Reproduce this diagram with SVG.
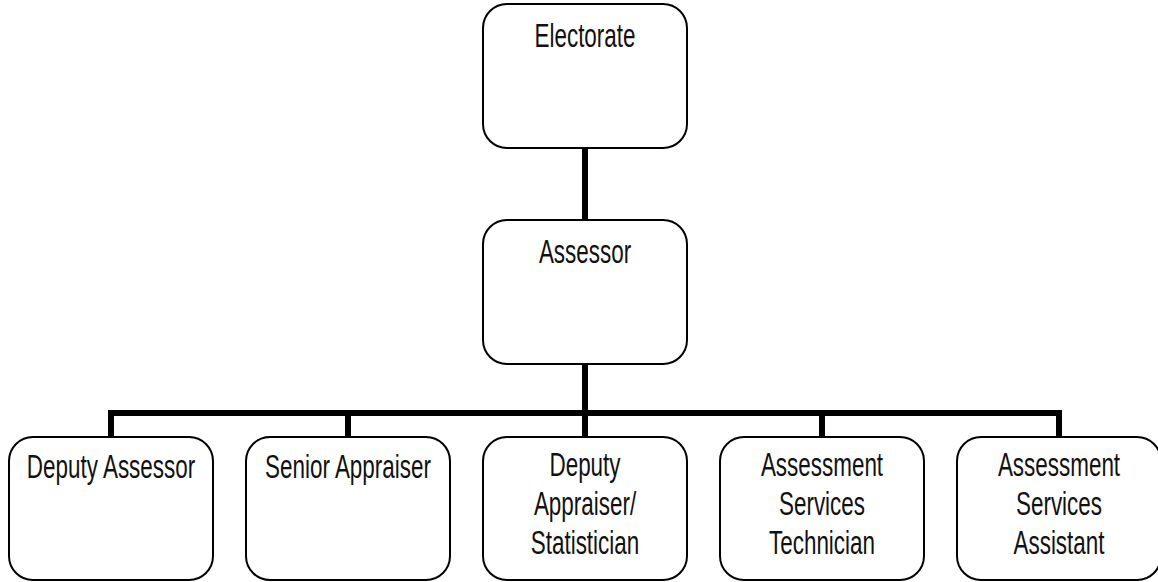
<svg xmlns="http://www.w3.org/2000/svg" width="1158" height="582" viewBox="0 0 1158 582">
<style>
.box{fill:#fff;stroke:#000;stroke-width:2}
.conn{fill:none;stroke:#000;stroke-width:6;stroke-linecap:butt;stroke-linejoin:miter}
.t{font-family:"Liberation Sans",Arial,sans-serif;font-size:34px;fill:#111;text-anchor:middle}
</style>
<rect width="1158" height="582" fill="#fff"/>
<g id="connectors">
<path class="conn" d="M585 148V220"/>
<path class="conn" d="M585 364V413"/>
<path class="conn" d="M111 437V413H1059V437"/>
<path class="conn" d="M348 413V437M585 413V437M822 413V437"/>
</g>
<g id="electorate">
<rect class="box" x="483" y="4" width="204" height="144" rx="24"/>
<text class="t" transform="translate(585 47) scale(0.66 1)">Electorate</text>
</g>
<g id="assessor">
<rect class="box" x="483" y="220" width="204" height="144" rx="24"/>
<text class="t" transform="translate(585 263) scale(0.66 1)">Assessor</text>
</g>
<g id="deputy-assessor">
<rect class="box" x="9" y="437" width="204" height="143" rx="24"/>
<text class="t" transform="translate(111 478) scale(0.66 1)">Deputy Assessor</text>
</g>
<g id="senior-appraiser">
<rect class="box" x="246" y="437" width="204" height="143" rx="24"/>
<text class="t" transform="translate(348 478) scale(0.66 1)">Senior Appraiser</text>
</g>
<g id="deputy-appraiser">
<rect class="box" x="483" y="437" width="204" height="143" rx="24"/>
<text class="t" transform="translate(585 476) scale(0.66 1)">Deputy</text>
<text class="t" transform="translate(585 515) scale(0.66 1)">Appraiser/</text>
<text class="t" transform="translate(585 554) scale(0.66 1)">Statistician</text>
</g>
<g id="assessment-technician">
<rect class="box" x="720" y="437" width="204" height="143" rx="24"/>
<text class="t" transform="translate(822 476) scale(0.66 1)">Assessment</text>
<text class="t" transform="translate(822 515) scale(0.66 1)">Services</text>
<text class="t" transform="translate(822 554) scale(0.66 1)">Technician</text>
</g>
<g id="assessment-assistant">
<rect class="box" x="957" y="437" width="204" height="143" rx="24"/>
<text class="t" transform="translate(1059 476) scale(0.66 1)">Assessment</text>
<text class="t" transform="translate(1059 515) scale(0.66 1)">Services</text>
<text class="t" transform="translate(1059 554) scale(0.66 1)">Assistant</text>
</g>
</svg>
